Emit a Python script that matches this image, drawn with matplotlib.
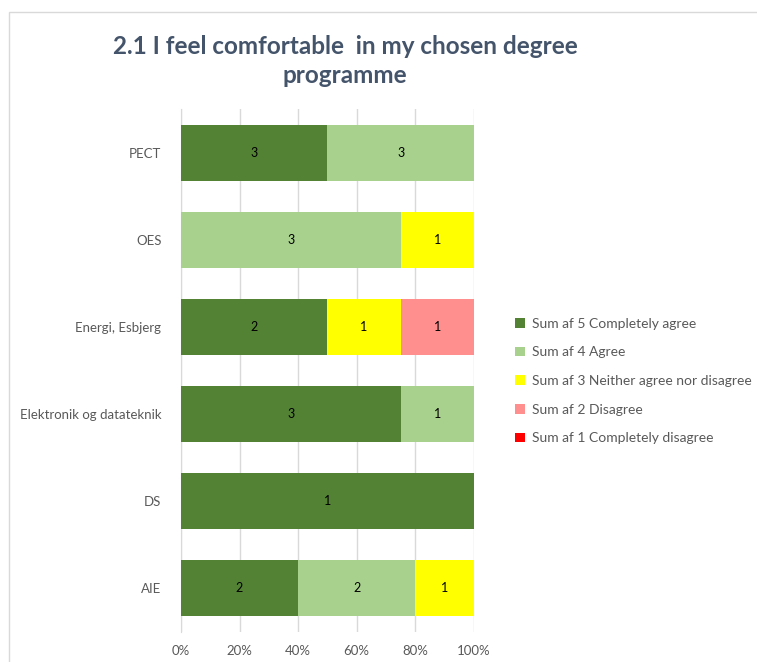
import matplotlib.pyplot as plt
import matplotlib.patches as mpatches
from matplotlib.ticker import PercentFormatter
import numpy as np

plt.rcParams['font.family'] = ['Lato', 'DejaVu Sans']

programmes = ['AIE', 'DS', 'Elektronik og datateknik', 'Energi, Esbjerg', 'OES', 'PECT']
series_names = ['Sum af 5 Completely agree', 'Sum af 4 Agree',
                'Sum af 3 Neither agree nor disagree', 'Sum af 2 Disagree',
                'Sum af 1 Completely disagree']
# counts per programme (same order as programmes)
completely_agree = [2, 1, 3, 2, 0, 3]
agree = [2, 0, 1, 0, 3, 3]
neutral = [1, 0, 0, 1, 1, 0]
disagree = [0, 0, 0, 1, 0, 0]
completely_disagree = [0, 0, 0, 0, 0, 0]

colors = ['#548235', '#A9D18E', '#FFFF00', '#FF8F8F', '#FF0000']
text_col = '#595959'

counts = np.array([completely_agree, agree, neutral, disagree, completely_disagree], dtype=float)
totals = counts.sum(axis=0)
shares = counts / totals

fig = plt.figure(figsize=(7.57, 6.62), dpi=100)
ax = fig.add_axes([0.239, 0.046, 0.387, 0.789])

y = np.arange(len(programmes))
left = np.zeros(len(programmes))
handles = []
for i, name in enumerate(series_names):
    bars = ax.barh(y, shares[i], left=left, height=0.64, color=colors[i], label=name, zorder=3)
    for j, b in enumerate(bars):
        if counts[i, j] > 0:
            ax.text(left[j] + shares[i, j] / 2, y[j], f'{int(counts[i, j])}',
                    ha='center', va='center', fontsize=9, color='black', zorder=4)
    left += shares[i]
    handles.append(bars)

ax.set_xlim(0, 1)
ax.set_ylim(-0.5, len(programmes) - 0.5)
ax.xaxis.set_major_locator(plt.MultipleLocator(0.2))
ax.xaxis.set_major_formatter(PercentFormatter(1.0, decimals=0))
ax.set_yticks(y)
ax.set_yticklabels(programmes)
ax.tick_params(axis='both', length=0, labelsize=9.5, colors=text_col)
ax.tick_params(axis='x', pad=10)
ax.tick_params(axis='y', pad=14)
ax.grid(axis='x', color='#D9D9D9', linewidth=1, zorder=0)
for side in ['top', 'right', 'bottom']:
    ax.spines[side].set_visible(False)
ax.spines['left'].set_color('#D9D9D9')

leg = fig.legend(handles=handles, labels=series_names, loc='center left',
                 bbox_to_anchor=(0.664, 0.4245), frameon=False, fontsize=10,
                 handlelength=0.7, handleheight=0.7, handletextpad=0.5,
                 labelspacing=1.2, labelcolor=text_col)

fig.text(0.456, 0.908, '2.1 I feel comfortable  in my chosen degree\nprogramme',
         ha='center', va='center', fontsize=17.5, fontweight='bold',
         color='#44546A', linespacing=1.3)

# light chart frame
fig.patches.append(mpatches.Rectangle((0.012, -0.01), 1.0, 0.992, transform=fig.transFigure,
                                      fill=False, edgecolor='#D9D9D9', linewidth=1))

fig.savefig('out.png', dpi=100)
